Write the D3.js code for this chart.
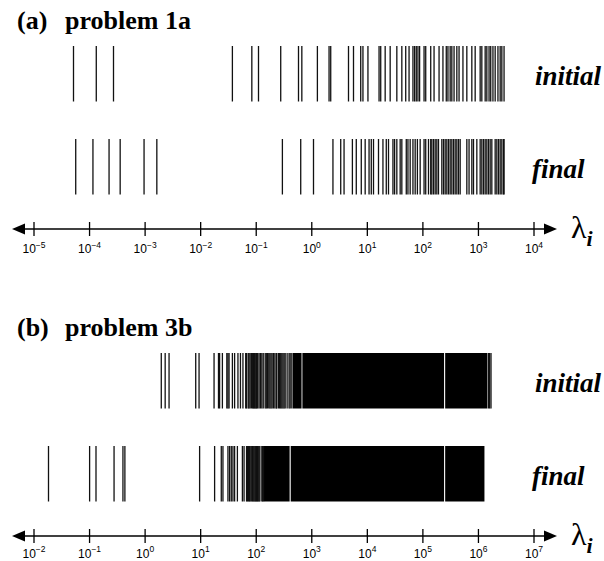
<!DOCTYPE html>
<html>
<head>
<meta charset="utf-8">
<script src="https://cdn.jsdelivr.net/npm/d3@7"></script>
<style>
  body { margin: 0; background: #fff; }
  svg { display: block; }
</style>
</head>
<body>
<div id="chart"></div>
<script>
// Eigenvalue exponents (log10 of lambda_i)

// (a) problem 1a
const decadesA = [-5, -4, -3, -2, -1, 0, 1, 2, 3, 4];
const initialA = [-4.28, -3.87, -3.56, -1.42, -1.07, -0.95, -0.55, -0.23, -0.17, 0.11, 0.32, 0.35,
  0.67, 0.76, 0.89, 0.93, 1.02, 1.22, 1.25, 1.33, 1.42, 1.54, 1.63, 1.70, 1.76, 1.83, 1.86, 1.89,
  1.92, 1.95, 2.03, 2.06, 2.15, 2.21, 2.30, 2.37, 2.43, 2.46, 2.50, 2.53, 2.57, 2.62, 2.66, 2.73,
  2.80, 2.89, 2.95, 3.04, 3.07, 3.13, 3.16, 3.20, 3.23, 3.27, 3.31, 3.36, 3.40, 3.43, 3.47];
const finalA = [-4.24, -3.93, -3.64, -3.44, -3.01, -2.78, -0.52, -0.19, 0.04, 0.39, 0.53, 0.59,
  0.74, 0.81, 0.90, 0.97, 1.04, 1.08, 1.12, 1.21, 1.29, 1.35, 1.39, 1.47, 1.50, 1.54, 1.60, 1.63,
  1.71, 1.74, 1.78, 1.83, 1.87, 1.91, 1.96, 2.03, 2.06, 2.11, 2.15, 2.17, 2.20, 2.23, 2.26, 2.29,
  2.35, 2.38, 2.41, 2.44, 2.47, 2.50, 2.53, 2.56, 2.59, 2.62, 2.65, 2.68, 2.80, 2.84, 2.89, 2.92,
  2.98, 3.04, 3.07, 3.10, 3.13, 3.16, 3.19, 3.22, 3.25, 3.31, 3.34, 3.37, 3.40, 3.43, 3.46, 3.47];

// (b) problem 3b
const decadesB = [-2, -1, 0, 1, 2, 3, 4, 5, 6, 7];
const initialB = [0.30, 0.37, 0.44, 0.92, 0.98, 1.25, 1.33, 1.35, 1.40, 1.48, 1.50, 1.52, 1.58,
  1.62, 1.68, 1.725, 1.77, 1.82, 1.835, 1.865, 1.88, 1.90, 1.925, 1.945, 1.96, 1.975, 1.99, 2.005,
  2.015, 2.035, 2.06, 2.085, 2.11, 2.135, 2.17, 2.19, 2.21, 2.235, 2.255, 2.275, 2.295, 2.32, 2.345,
  2.37, 2.38, 2.41, 2.43, 2.45, 2.47, 2.49, 2.51, 2.53, 2.565, 2.60, 2.62, 2.65, 6.19, 6.21, 6.235];
const initialBandsB = [[2.667, 2.825], [2.84, 5.39], [5.41, 6.17]];      // fully packed ranges
const finalB = [-1.73, -0.99, -0.875, -0.55, -0.39, -0.355, 0.99, 1.26, 1.38, 1.41, 1.50, 1.53,
  1.56, 1.59, 1.62, 1.67, 1.76, 1.79, 1.835, 1.85, 1.87, 1.885, 1.90, 1.92, 1.94, 1.955, 1.97,
  1.985, 2.00, 2.015, 2.03, 2.045, 2.06, 2.075, 2.11, 2.125, 2.14];
const finalBandsB = [[2.148, 2.61], [2.63, 5.39], [5.41, 6.117]];

const rowNames = ["initial", "final"];

// Canvas

const width = 604, height = 561;
const svg = d3.select("#chart").append("svg")
    .attr("width", width)
    .attr("height", height);

const serif = "'Liberation Serif', 'Times New Roman', serif";
const sans = "'Liberation Sans', Arial, sans-serif";

// One panel: title, two rows of eigenvalue lines, log axis with arrows

const drawPanel = (p) => {
    const x = d3.scaleLinear()
        .domain(d3.extent(p.decades))
        .range([33.5, 533.5]);

    const g = svg.append("g")
        .attr("transform", `translate(0,${p.top})`);

    // title
    const title = g.append("text")
        .attr("y", 29)
        .attr("font-family", serif)
        .attr("font-weight", "bold")
        .attr("font-size", 26);
    title.append("tspan").attr("x", 17).text(p.tag);
    title.append("tspan").attr("x", 65).text(p.name);

    // rows
    const rowH = 55.5;
    p.rows.forEach((r, i) => {
        const y0 = 46 + i * 93;
        const row = g.append("g");

        row.selectAll("rect")
            .data(r.bands || [])
            .enter()
            .append("rect")
                .attr("x", d => x(d[0]))
                .attr("width", d => x(d[1]) - x(d[0]))
                .attr("y", y0)
                .attr("height", rowH)
                .attr("fill", "#000");

        row.selectAll("line")
            .data(r.values)
            .enter()
            .append("line")
                .attr("x1", d => x(d))
                .attr("x2", d => x(d))
                .attr("y1", y0)
                .attr("y2", y0 + rowH)
                .attr("stroke", "#111")
                .attr("stroke-width", 1.3);

        g.append("text")
            .attr("x", i === 0 ? 535 : 532)
            .attr("y", y0 + 39)
            .attr("font-family", serif)
            .attr("font-style", "italic")
            .attr("font-weight", "bold")
            .attr("font-size", 27)
            .text(rowNames[i]);
    });

    // axis
    const ay = 229;
    const ax = g.append("g")
        .attr("transform", `translate(0,${ay})`)
        .call(d3.axisBottom(x).tickValues(p.decades).tickSize(7).tickFormat(""));
    ax.select(".domain").remove();
    ax.selectAll(".tick line")
        .attr("y1", -7)
        .attr("y2", 7)
        .attr("stroke", "#000")
        .attr("stroke-width", 1.3);
    ax.selectAll(".tick text")
        .attr("y", p.labelY)
        .attr("dy", null)
        .attr("fill", "#000")
        .attr("font-family", sans)
        .attr("font-size", 12)
        .each(function(d) {
            const t = d3.select(this);
            t.append("tspan").text("10");
            t.append("tspan")
                .attr("dy", -5.5)
                .attr("font-size", 8.5)
                .text(d < 0 ? "\u2212" + (-d) : d);
        });

    g.append("line")
        .attr("x1", 20).attr("x2", 550)
        .attr("y1", ay).attr("y2", ay)
        .attr("stroke", "#000")
        .attr("stroke-width", 1.4);
    g.append("path")
        .attr("d", `M12,${ay}L25,${ay - 5.5}L25,${ay + 5.5}Z`)
        .attr("fill", "#000");
    g.append("path")
        .attr("d", `M557,${ay}L544,${ay - 5.5}L544,${ay + 5.5}Z`)
        .attr("fill", "#000");

    // lambda_i
    const lab = g.append("text")
        .attr("x", 571)
        .attr("y", ay + 9)
        .attr("font-family", serif)
        .attr("font-size", 32)
        .text("\u03bb");
    lab.append("tspan")
        .attr("dy", 8)
        .attr("font-size", 22)
        .attr("font-style", "italic")
        .attr("font-weight", "bold")
        .text("i");
};

drawPanel({
    top: 0, tag: "(a)", name: "problem 1a", decades: decadesA, labelY: 24,
    rows: [{values: initialA}, {values: finalA}]
});
drawPanel({
    top: 307, tag: "(b)", name: "problem 3b", decades: decadesB, labelY: 21.5,
    rows: [{values: initialB, bands: initialBandsB}, {values: finalB, bands: finalBandsB}]
});
</script>
</body>
</html>
